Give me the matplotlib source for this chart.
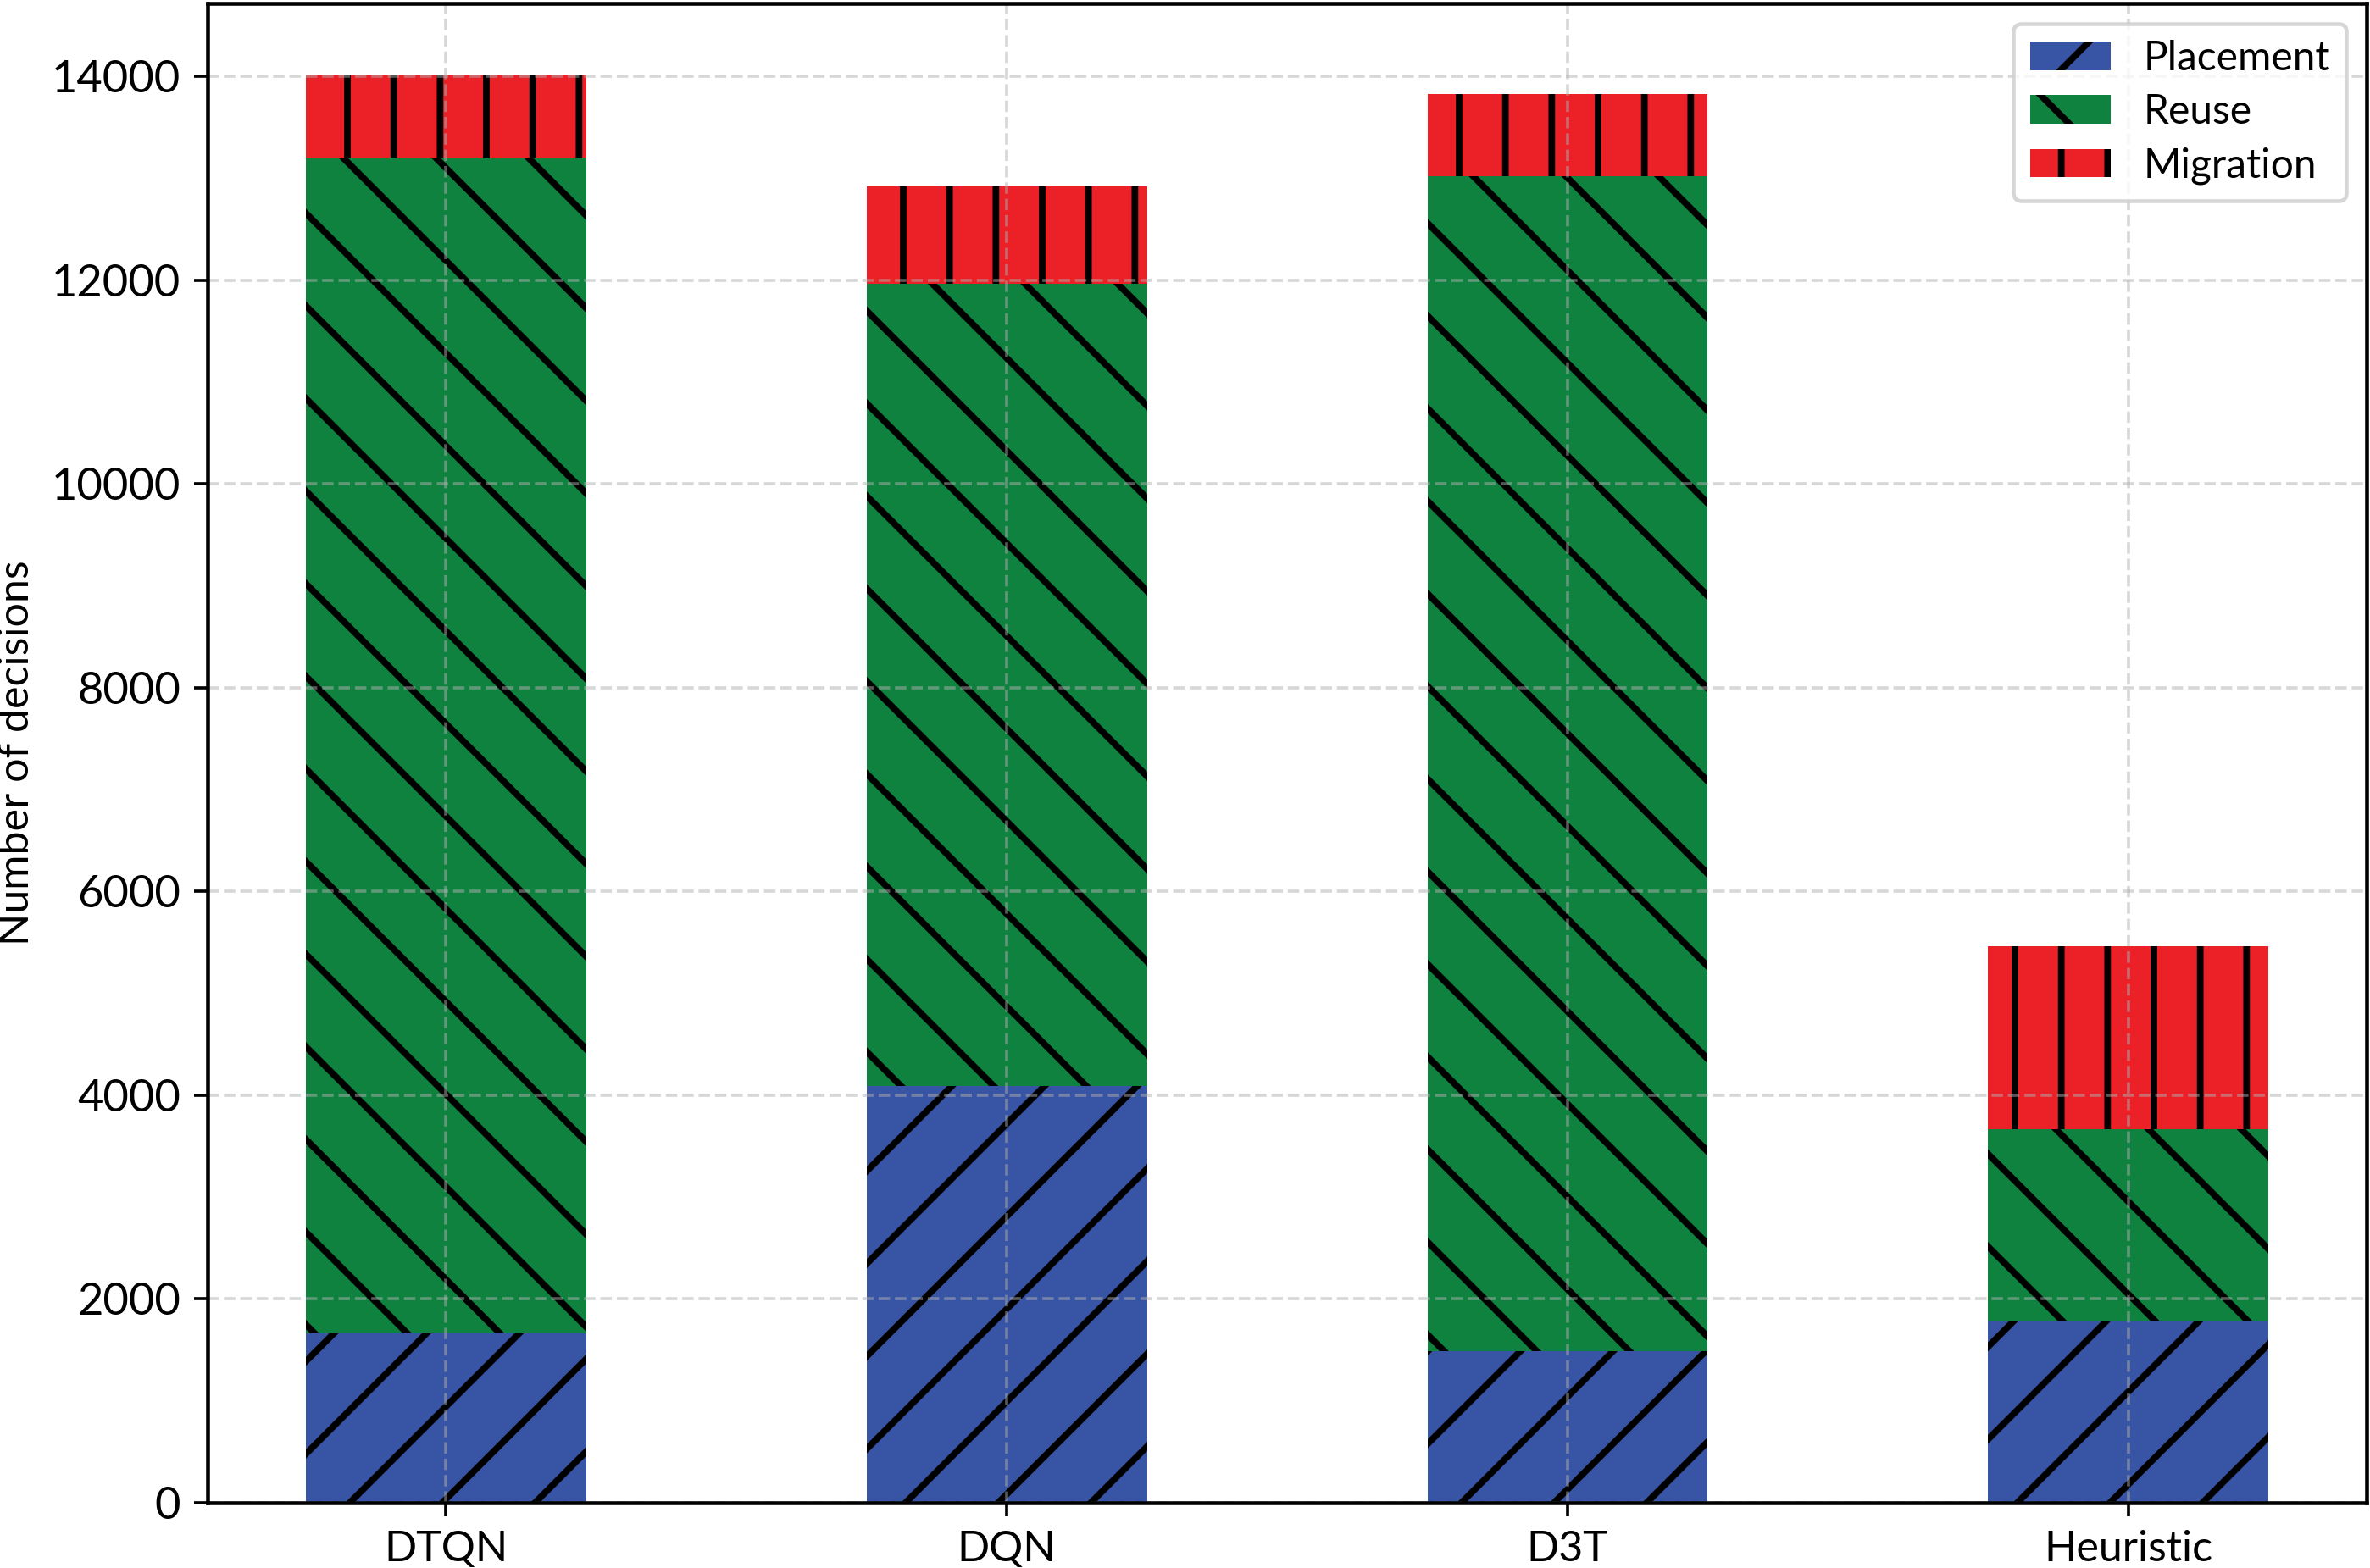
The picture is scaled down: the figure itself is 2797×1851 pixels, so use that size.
import numpy as np
import matplotlib
matplotlib.use("Agg")
from matplotlib import pyplot as plt

methods = ['DTQN', 'DQN', 'D3T', 'Heuristic']
placement = [1660, 4090, 1490, 1780]
reuse = [11540, 7880, 11530, 1890]
migration = [820, 950, 810, 1790]

plt.rcParams['font.family'] = ['Lato', 'DejaVu Sans']
plt.rcParams['hatch.linewidth'] = 1.7
plt.rcParams['hatch.color'] = 'black'

DPI = 328
fig, ax = plt.subplots(figsize=(2797 / DPI, 1851 / DPI), dpi=DPI)
fig.subplots_adjust(left=0.0876, right=0.9986, bottom=0.0416, top=0.998)

x = np.arange(len(methods))
width = 0.5
bottom2 = np.array(placement)
bottom3 = bottom2 + np.array(reuse)

ax.bar(x, placement, width, color='#3854A4', hatch='/', linewidth=0, label='Placement')
ax.bar(x, reuse, width, bottom=bottom2, color='#108240', hatch='\\', linewidth=0, label='Reuse')
ax.bar(x, migration, width, bottom=bottom3, color='#EC2128', hatch='|', linewidth=0, label='Migration')

ax.set_xticks(x)
ax.set_xticklabels(methods, fontsize=11)
ax.tick_params(axis='y', labelsize=11.5)
ax.set_ylabel('Number of decisions', fontsize=11)
ax.grid(True, linestyle='--', alpha=0.5)
for s in ax.spines.values():
    s.set_linewidth(1.0)

ax.legend(loc='upper right', fontsize=10.5, labelspacing=0.4)

fig.savefig('out.png', dpi=DPI)
